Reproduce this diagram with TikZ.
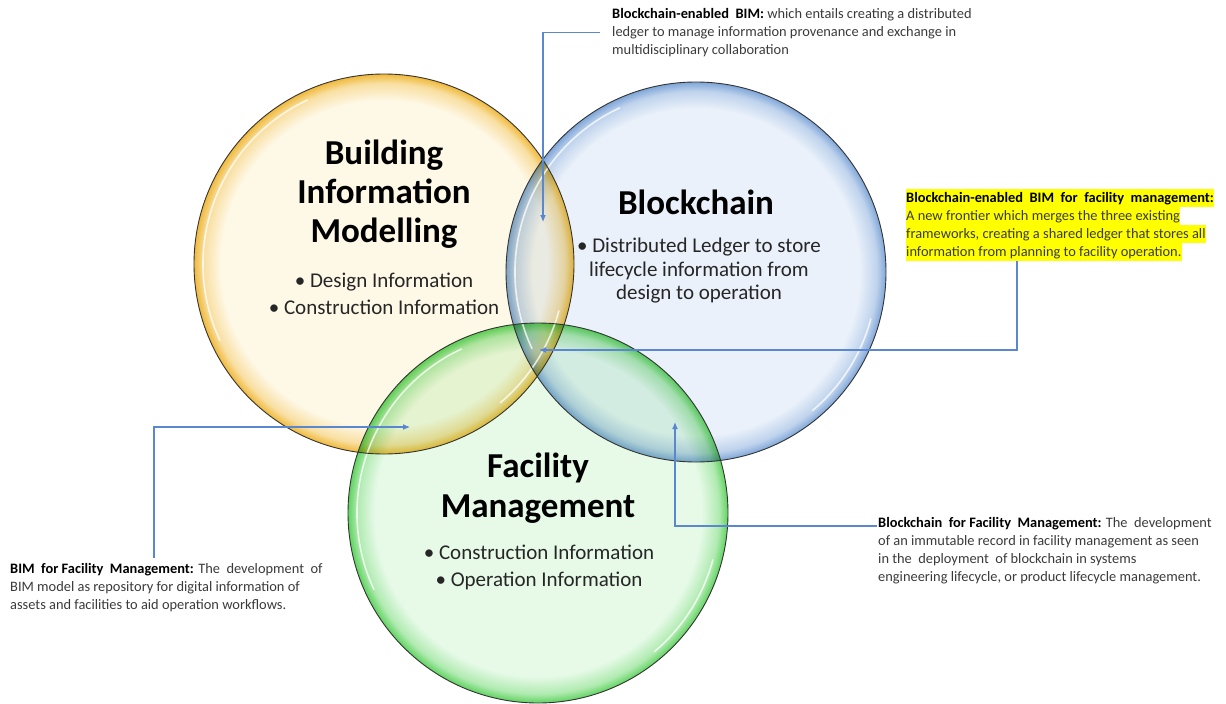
\documentclass[tikz,border=0pt]{standalone}
\usepackage{fontspec}
\setmainfont{Carlito}
\usetikzlibrary{arrows.meta,calc}
\definecolor{yin}{HTML}{FEF8E6}
\definecolor{yrim}{HTML}{F0B93A}
\definecolor{bin}{HTML}{EAF1FA}
\definecolor{brim}{HTML}{7FA6D8}
\definecolor{gin}{HTML}{E6FAE7}
\definecolor{grim}{HTML}{5FD35F}
\definecolor{conncol}{HTML}{5B86D0}
\definecolor{notetext}{HTML}{3A3A3A}
\definecolor{bodytext}{HTML}{262626}
\definecolor{hlyellow}{HTML}{FFFF00}
\pgfdeclareradialshading{yball}{\pgfpointorigin}{color(0bp)=(yin); color(21.5bp)=(yin); color(23.8bp)=(yrim!40!yin); color(25bp)=(yrim); color(50bp)=(yrim)}
\pgfdeclareradialshading{bball}{\pgfpointorigin}{color(0bp)=(bin); color(21.5bp)=(bin); color(23.8bp)=(brim!40!bin); color(25bp)=(brim); color(50bp)=(brim)}
\pgfdeclareradialshading{gball}{\pgfpointorigin}{color(0bp)=(gin); color(21.5bp)=(gin); color(23.8bp)=(grim!40!gin); color(25bp)=(grim); color(50bp)=(grim)}
\newcommand\hlline[1]{{\setlength\fboxsep{0pt}\colorbox{hlyellow}{\rule[-4.5pt]{0pt}{18pt}#1}}}
\tikzset{
  note/.style={font=\fontsize{14.4}{18}\selectfont, text=notetext, align=left, inner sep=0pt, anchor=north west},
  title/.style={font=\fontsize{35}{39}\selectfont\bfseries, text=black, align=center, inner sep=0pt},
  bullets/.style={font=\fontsize{21}{27}\selectfont, text=bodytext, align=center, inner sep=0pt},
  conn/.style={draw=conncol, line width=1.1pt, -{Latex[length=7pt,width=6pt]}},
  rimline/.style={draw=black!80, line width=0.9pt},
  gloss/.style={draw=white, line width=1.6pt, opacity=0.75, line cap=round}
}
\begin{document}
\begin{tikzpicture}[x=1pt,y=-1pt]
\useasboundingbox (0,0) rectangle (1226,704);
\coordinate (yc) at (384,264);
\coordinate (bc) at (696,272);
\coordinate (gc) at (538,513);
% circles
\begin{scope}[blend mode=multiply]
  \shade[shading=yball] (yc) circle[radius=190pt];
  \shade[shading=bball] (bc) circle[radius=190pt];
  \shade[shading=gball] (gc) circle[radius=190pt];
\end{scope}
\foreach \c in {yc,bc,gc}{
  \draw[gloss] ($(\c)+(115:181pt)$) arc[start angle=115, end angle=205, radius=181pt];
  \draw[gloss] ($(\c)+(-50:181pt)$) arc[start angle=-50, end angle=-15, radius=181pt];
}
\draw[rimline] (yc) circle[radius=190pt];
\draw[rimline] (bc) circle[radius=190pt];
\draw[rimline] (gc) circle[radius=190pt];
% circle texts
\node[title] (bimtitle) at (384,194) {Building\\Information\\Modelling};
\node[bullets] (bimlist) at (384,294) {\textbullet\ Design Information\\\textbullet\ Construction Information};
\node[title] (bctitle) at (696,202) {Blockchain};
\node[bullets, font=\fontsize{21}{23.5}\selectfont] (bclist) at (699,271) {\textbullet\ Distributed Ledger to store\\lifecycle information from\\design to operation};
\node[title, font=\fontsize{35}{40}\selectfont\bfseries] (fmtitle) at (538,488) {Facility\\Management};
\node[bullets] (fmlist) at (539,567) {\textbullet\ Construction Information\\\textbullet\ Operation Information};
% notes
\node[note] (topnote) at (612,8) {\textbf{\color{black}Blockchain-enabled\ \ BIM:} which entails creating a distributed\\ledger to manage information provenance and exchange in\\multidisciplinary collaboration};
\node[note] (rnote) at (906,189) {\hlline{\textbf{\color{black}Blockchain-enabled\ \ BIM\ \ for\ \ facility\ \ management:}}\\\hlline{A new frontier which merges\ the\ three\ existing}\\\hlline{frameworks, creating a shared ledger\ that stores all}\\\hlline{information from planning to facility operation.}};
\node[note] (lnote) at (10,563) {\textbf{\color{black}BIM\ \ for Facility\ \ Management:} The\ \ development\ \ of\\BIM model as repository for digital information of\\assets and facilities to aid operation workflows.};
\node[note] (brnote) at (878,517) {\textbf{\color{black}Blockchain\ \ for Facility\ \ Management:} The\ \ development\\of an immutable record in facility management as seen\\in the\ \ deployment\ \ of blockchain in systems\\engineering lifecycle, or product lifecycle management.};
% connectors
\coordinate (ttip) at (543,222);
\coordinate (rcorner) at (1017,350);
\coordinate (rtip) at (539,350);
\coordinate (ltip) at (410,427);
\coordinate (btip) at (675,422);
\draw[conn] ([xshift=-12pt]topnote.west) -| (ttip);
\draw[conn] (rnote.south -| rcorner) -- (rcorner) -- (rtip);
\draw[conn] ([xshift=144pt,yshift=5pt]lnote.north west) |- (ltip);
\draw[conn] ([xshift=-1pt,yshift=-9pt]brnote.north west) -| (btip);
\end{tikzpicture}
\end{document}
